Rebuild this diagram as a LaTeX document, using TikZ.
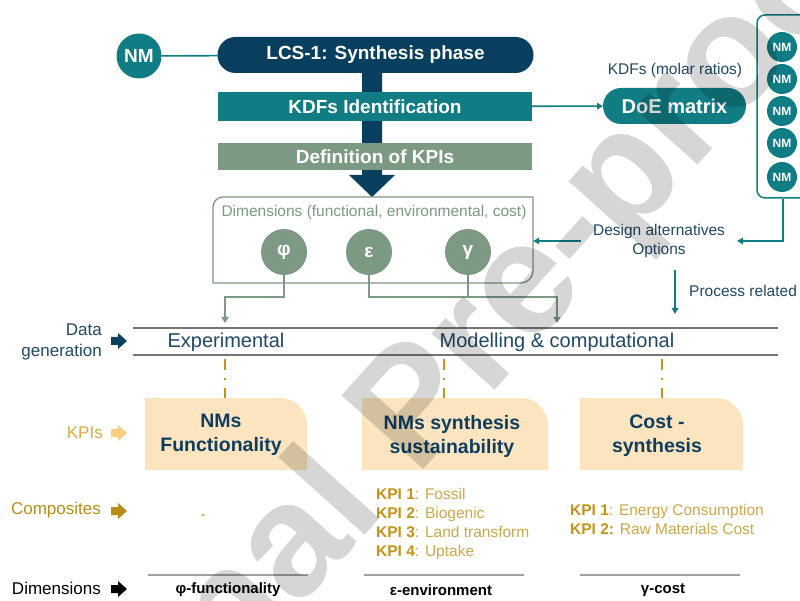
\documentclass[tikz,border=0pt]{standalone}
\usepackage{fontspec}
\setmainfont{Liberation Sans}
\usetikzlibrary{arrows.meta}
\definecolor{navy}{RGB}{8,62,94}
\definecolor{teal2}{RGB}{16,124,132}
\definecolor{sage}{RGB}{124,153,131}
\definecolor{txtblue}{RGB}{31,73,100}
\definecolor{kpinavy}{RGB}{14,61,96}
\definecolor{goldD}{RGB}{196,148,24}
\definecolor{goldL}{RGB}{206,168,72}
\definecolor{kpifill}{RGB}{252,229,190}
\definecolor{kpilab}{RGB}{222,172,60}
\definecolor{kpiarrow}{RGB}{250,205,130}
\definecolor{compgold}{RGB}{186,140,24}
\definecolor{linegray}{RGB}{118,118,118}
\definecolor{wmgray}{RGB}{214,214,214}
\newcommand\myfs[2]{\fontsize{#1}{#2}\selectfont}
\begin{document}
\begin{tikzpicture}[x=1pt,y=-1pt,
  hdr/.style={inner sep=0, outer sep=0, text=white, font=\bfseries\myfs{19}{22}},
  nmc/.style={circle, fill=teal2, text=white, inner sep=0, outer sep=0, font=\bfseries\myfs{12}{12}, minimum size=30pt},
  dimc/.style={circle, fill=sage, text=white, inner sep=0, outer sep=0, minimum size=46pt, font=\bfseries\myfs{19}{19}},
  tconn/.style={draw=teal2, line width=1.6pt},
  tarrow/.style={tconn, -{Triangle[length=6pt,width=6.5pt]}},
  sconn/.style={draw=sage, line width=2.4pt},
  sarrow/.style={sconn, -{Triangle[length=6pt,width=7pt]}},
  lbl/.style={inner sep=0, text=txtblue, font=\myfs{15.5}{19}},
  kpitxt/.style={inner sep=0, text=kpinavy, font=\bfseries\myfs{19.5}{24}, align=center},
  kpiline/.style={inner sep=0, anchor=base west, text=goldL, font=\myfs{15.5}{19}},
  gline/.style={draw=linegray, line width=2pt},
  bline/.style={draw=linegray!70, line width=1.4pt},
  goldDash/.style={draw=goldD, line width=2.8pt, dash pattern=on 11pt off 8pt on 2pt off 8pt},
  sidelbl/.style={inner sep=0, anchor=east, font=\myfs{17}{21}, align=right},
  botlbl/.style={inner sep=0, font=\bfseries\myfs{15}{18}},
]
\useasboundingbox (0,0) rectangle (800,601);
\clip (0,0) rectangle (800,601);
\fill[white] (0,0) rectangle (800,601);

% big arrow
\fill[navy] (362,60) -- (382,60) -- (382,175) -- (395,175) -- (372,197) -- (349,175) -- (362,175) -- cycle;

% top boxes
\node[hdr, fill=navy, rounded corners=18pt, minimum width=316pt, minimum height=36pt] (lcs) at (375.5,55) {LCS-1: Synthesis phase};
\node[nmc, minimum size=45pt, font=\bfseries\myfs{19}{19}] (nm0) at (139,56) {NM};
\draw[tconn] (nm0) -- (lcs);
\node[hdr, fill=teal2, minimum width=314pt, minimum height=29pt] (kdf) at (375,106.5) {KDFs Identification};
\node[hdr, fill=sage, minimum width=314pt, minimum height=27pt] (defk) at (375,156.5) {Definition of KPIs};
\node[hdr, fill=teal2, rounded corners=18pt, minimum width=143pt, minimum height=36pt, font=\bfseries\myfs{20}{22}] (doe) at (674.5,106) {DoE matrix};
\draw[tarrow] (kdf) -- (doe);
\node[lbl] (kdfl) at (675,70) {KDFs (molar ratios)};

% right NM box
\node[draw=teal2, line width=1.5pt, rounded corners=8pt, minimum width=52pt, minimum height=183pt, inner sep=0] (nmbox) at (783,106.5) {};
\node[nmc] (nm1) at (782,47) {NM};
\node[nmc] (nm2) at (782,79) {NM};
\node[nmc] (nm3) at (782,111) {NM};
\node[nmc] (nm4) at (782,143) {NM};
\node[nmc] (nm5) at (782,177) {NM};

% design alternatives
\node[lbl, align=center] (design) at (659,241) {Design alternatives\\Options};
\draw[tarrow] (nmbox.south) |- ([xshift=12pt]design.east);

% dimensions box
\node[minimum width=320pt, minimum height=86pt, inner sep=0] (dims) at (373,240) {};
\draw[sage, line width=1.3pt] (213,283) -- (213,207) .. controls (213,201.5) and (217.5,197) .. (223,197) -- (533,197) -- (533,271) .. controls (533,277.6) and (527.6,283) .. (521,283) -- cycle;
\draw[tarrow] ([xshift=-12pt]design.west) -- (design.west -| dims.east);
\node[inner sep=0, text=sage, font=\myfs{15.5}{18}] (dimt) at (374,212) {Dimensions (functional, environmental, cost)};
\node[dimc] (phi) at (284,252) {φ};
\node[dimc] (eps) at (369,252) {ε};
\node[dimc] (gam) at (468,252) {γ};

% process related
\coordinate (pr1) at (675,270);
\coordinate (pr2) at (675,314);
\draw[tarrow] (pr1) -- (pr2);
\node[lbl, anchor=west] (procrel) at (689,291) {Process related};

% connectors from dimensions
\coordinate (hy) at (0,297);
\coordinate (expin) at (225,323);
\coordinate (modin) at (557,323);
\draw[sarrow] (phi.south) -- (phi.south |- hy) -| (expin);
\draw[sarrow] (eps.south) -- (eps.south |- hy) -| (modin);
\draw[sconn] (gam.south) -- (gam.south |- hy);

% data generation band
\coordinate (L1a) at (133,328); \coordinate (L1b) at (778,328);
\coordinate (L2a) at (133,355); \coordinate (L2b) at (778,355);
\draw[gline] (L1a) -- (L1b);
\draw[gline] (L2a) -- (L2b);
\node[inner sep=0, text=txtblue, font=\myfs{20}{22}] (exper) at (226,342) {Experimental};
\node[inner sep=0, text=txtblue, font=\myfs{20}{22}] (model) at (557,342) {Modelling \& computational};
\node[sidelbl, text=txtblue] (dgl) at (102,341.5) {Data\\generation};
\fill[navy] (111,337) -- (118,337) -- (118,333) -- (127,341) -- (118,349) -- (118,345) -- (111,345) -- cycle;

% dashed gold lines
\coordinate (d1a) at (225,359); \coordinate (d1b) at (225,399);
\coordinate (d2a) at (444,359); \coordinate (d2b) at (444,399);
\coordinate (d3a) at (662,359); \coordinate (d3b) at (662,399);
\draw[goldDash] (d1a) -- (d1b);
\draw[goldDash] (d2a) -- (d2b);
\draw[goldDash] (d3a) -- (d3b);

% KPI boxes
\fill[kpifill] (145,470) -- (145,398) -- (280,398) .. controls (295,398) and (307,410) .. (307,425) -- (307,470) -- cycle;
\fill[kpifill] (362,470) -- (362,398) -- (521,398) .. controls (536,398) and (548,410) .. (548,425) -- (548,470) -- cycle;
\fill[kpifill] (580,470) -- (580,398) -- (716,398) .. controls (731,398) and (743,410) .. (743,425) -- (743,470) -- cycle;
\node[kpitxt] (kpiA) at (221,435) {NMs\\Functionality};
\node[kpitxt] (kpiB) at (452,436) {NMs synthesis\\sustainability};
\node[kpitxt] (kpiC) at (657,435.5) {Cost -\\synthesis};

% side labels
\node[sidelbl, text=kpilab] (kpil) at (103,433) {KPIs};
\fill[kpiarrow] (111,429) -- (118,429) -- (118,425) -- (127,433) -- (118,441) -- (118,437) -- (111,437) -- cycle;
\node[sidelbl, text=compgold] (compl) at (101,510) {Composites};
\fill[compgold] (111,507) -- (118,507) -- (118,503) -- (127,511) -- (118,519) -- (118,515) -- (111,515) -- cycle;
\node[sidelbl, text=black] (diml) at (101,588) {Dimensions};
\fill[black] (111,585) -- (118,585) -- (118,581) -- (127,589) -- (118,597) -- (118,593) -- (111,593) -- cycle;

% composites
\node[inner sep=0, text=goldD, font=\myfs{15}{18}] (dash1) at (203,517) {-};
\node[kpiline] (e1) at (376,499) {\textcolor{goldD}{\textbf{KPI 1}}: Fossil};
\node[kpiline] (e2) at (376,518) {\textcolor{goldD}{\textbf{KPI 2}}: Biogenic};
\node[kpiline] (e3) at (376,537) {\textcolor{goldD}{\textbf{KPI 3}}: Land transform};
\node[kpiline] (e4) at (376,556) {\textcolor{goldD}{\textbf{KPI 4}}: Uptake};
\node[kpiline] (c1) at (570,515) {\textcolor{goldD}{\textbf{KPI 1}}: Energy Consumption};
\node[kpiline] (c2) at (570,534) {\textcolor{goldD}{\textbf{KPI 2:}} Raw Materials Cost};

% bottom lines and labels
\coordinate (b1a) at (148,575); \coordinate (b1b) at (308,575);
\coordinate (b2a) at (364,575); \coordinate (b2b) at (524,575);
\coordinate (b3a) at (580,575); \coordinate (b3b) at (740,575);
\draw[bline] (b1a) -- (b1b);
\draw[bline] (b2a) -- (b2b);
\draw[bline] (b3a) -- (b3b);
\node[botlbl] (bf) at (228,590) {φ-functionality};
\node[botlbl] (be) at (441,590) {ε-environment};
\node[botlbl] (bg) at (663,590) {γ-cost};

% watermark
\node[rotate=48, anchor=base west, inner sep=0, text=wmgray, blend mode=multiply, font=\bfseries\myfs{160}{160}] (wm) at (0,940) {Journal Pre-proof};
\end{tikzpicture}
\end{document}
